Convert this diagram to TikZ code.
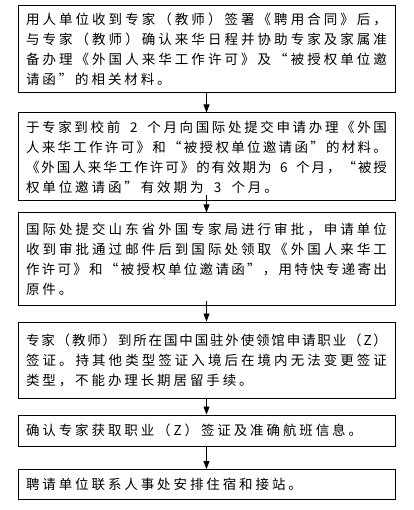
\documentclass[tikz,border=0pt]{standalone}
\usepackage{fontspec}
\setmainfont{Noto Sans CJK SC}
\newfontfamily\fwq[CharacterWidth=Full]{Noto Sans CJK SC}
\usetikzlibrary{arrows.meta}
\newcommand\lqq{\mbox{\fwq “}}
\newcommand\rqq{\mbox{\fwq ”}}
\makeatletter
\newcommand\jl[1]{\leavevmode\hbox to\linewidth{\def\sp@glue{\hskip 0pt plus 1fil}\sp@first#1\relax}}
\newcommand\natl[1]{\leavevmode\hbox{\def\sp@glue{\hskip 2.9pt}\sp@first#1\relax}}
\def\sp@first#1{#1\sp@rest}
\def\sp@rest#1{\ifx#1\relax\else\sp@glue#1\expandafter\sp@rest\fi}
\makeatother
\begin{document}
\begin{tikzpicture}[x=1pt,y=-1pt,
  box/.style={draw, line width=1pt, minimum width=377pt, text width=361pt,
    inner xsep=8pt, inner ysep=0pt, align=left,
    font=\fontsize{13.5}{20}\selectfont},
  arr/.style={line width=0.8pt, -{Triangle[width=6pt,length=8pt]}}]
\useasboundingbox (0,0) rectangle (413,510);
\node[box, minimum height=87pt] (b1) at (206.5,49.5) {%
\jl{用人单位收到专家（教师）签署《聘用合同》后，}\\
\jl{与专家（教师）确认来华日程并协助专家及家属准}\\
\jl{备办理《外国人来华工作许可》及\lqq 被授权单位邀}\\
\natl{请函\rqq 的相关材料。}};
\node[box, minimum height=88pt] (b2) at (206.5,157) {%
\jl{于专家到校前~2~个月向国际处提交申请办理《外国}\\
\jl{人来华工作许可》和\lqq 被授权单位邀请函\rqq 的材料。}\\
\jl{《外国人来华工作许可》的有效期为~6~个月，\lqq 被授}\\
\natl{权单位邀请函\rqq 有效期为~3~个月。}};
\node[box, minimum height=92pt] (b3) at (206.5,259) {%
\jl{国际处提交山东省外国专家局进行审批，申请单位}\\
\jl{收到审批通过邮件后到国际处领取《外国人来华工}\\
\jl{作许可》和\lqq 被授权单位邀请函\rqq ，用特快专递寄出}\\
\natl{原件。}};
\node[box, minimum height=76pt] (b4) at (206.5,360) {%
\jl{专家（教师）到所在国中国驻外使领馆申请职业（Z）}\\
\jl{签证。持其他类型签证入境后在境内无法变更签证}\\
\natl{类型，不能办理长期居留手续。}};
\node[box, minimum height=31pt] (b5) at (206.5,430.5) {\natl{确认专家获取职业（Z）签证及准确航班信息。}};
\node[box, minimum height=30pt] (b6) at (206.5,484.5) {\natl{聘请单位联系人事处安排住宿和接站。}};
\draw[arr] (b1.south) -- (b2.north);
\draw[arr] ([yshift=6pt]b2.south) -- (b3.north);
\draw[arr] ([yshift=5pt]b3.south) -- (b4.north);
\draw[arr] (b4.south) -- (b5.north);
\draw[arr] (b5.south) -- (b6.north);
\end{tikzpicture}
\end{document}
